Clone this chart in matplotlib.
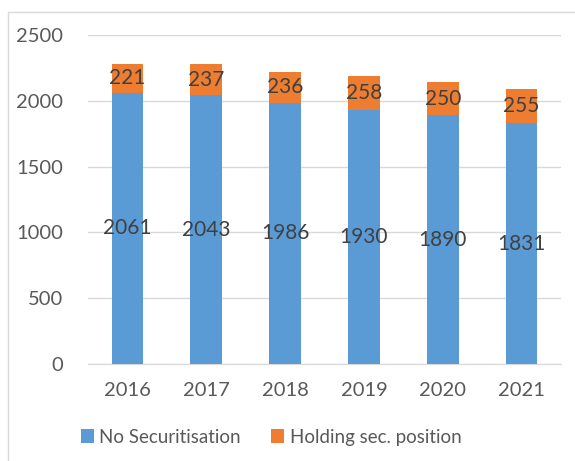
import matplotlib.pyplot as plt
from matplotlib.patches import Rectangle

# Datos
years = ['2016', '2017', '2018', '2019', '2020', '2021']
no_sec = [2061, 2043, 1986, 1930, 1890, 1831]
holding = [221, 237, 236, 258, 250, 255]

blue = '#5B9BD5'
orange = '#ED7D31'
text_col = '#404040'
tick_col = '#595959'

plt.rcParams['font.family'] = ['Lato', 'DejaVu Sans']

fig = plt.figure(figsize=(5.75, 4.61), dpi=100)

# Borde del área del gráfico
fig.patches.append(Rectangle((8 / 575, -0.05), 1.2, 1 - 12 / 461 + 0.05,
                             transform=fig.transFigure, fill=False,
                             edgecolor='#D9D9D9', linewidth=1.0))

ax = fig.add_axes([88 / 575, 1 - 364 / 461, (561 - 88) / 575, (364 - 35) / 461])

x = range(len(years))
b1 = ax.bar(x, no_sec, width=0.4, color=blue, label='No Securitisation', zorder=3)
b2 = ax.bar(x, holding, width=0.4, bottom=no_sec, color=orange,
            label='Holding sec. position', zorder=3)

ax.bar_label(b1, labels=[str(v) for v in no_sec], label_type='center',
             fontsize=15, color=text_col)
ax.bar_label(b2, labels=[str(v) for v in holding], label_type='center',
             fontsize=15, color=text_col)

ax.set_ylim(0, 2500)
ax.set_xlim(-0.5, len(years) - 0.5)
ax.set_yticks(range(0, 2501, 500))
ax.set_xticks(list(x))
ax.set_xticklabels(years)
ax.tick_params(axis='both', length=0, labelsize=14.5, colors=tick_col)
ax.tick_params(axis='y', pad=18)
ax.tick_params(axis='x', pad=13)

ax.grid(axis='y', color='#D9D9D9', linewidth=1, zorder=0)
for side in ['top', 'right', 'left']:
    ax.spines[side].set_visible(False)
ax.spines['bottom'].set_color('#D9D9D9')

leg = fig.legend(handles=[b1, b2], loc='center', bbox_to_anchor=(271 / 575, 1 - 437 / 461),
                 ncol=2, frameon=False, fontsize=13.5, handlelength=0.7,
                 handleheight=0.7, handletextpad=0.3, columnspacing=1.6)
for t in leg.get_texts():
    t.set_color(tick_col)

plt.savefig('out.png', dpi=100)
